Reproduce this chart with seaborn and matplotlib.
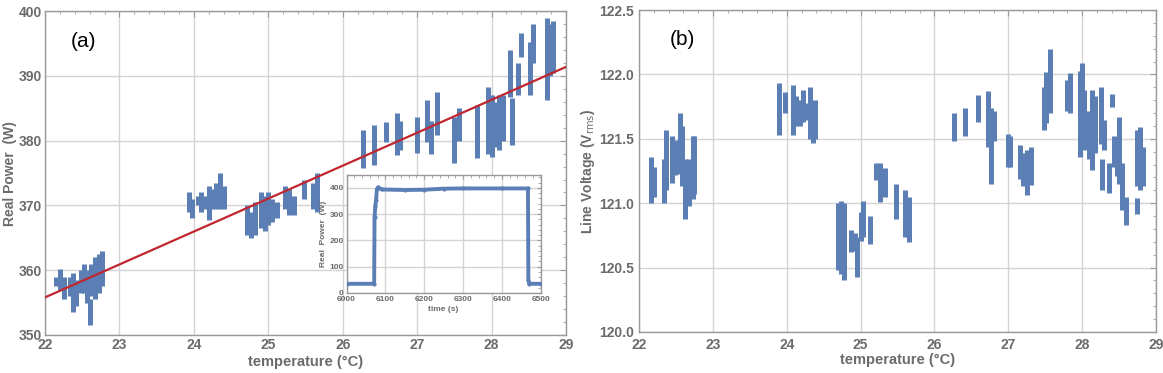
import matplotlib
matplotlib.use("Agg")
import matplotlib.pyplot as plt
from matplotlib.ticker import MultipleLocator, AutoMinorLocator, FormatStrFormatter
import seaborn as sns

# ---- panel (a): vertical streaks of real power vs temperature  (T, low, high)
power_T = [22.15, 22.20, 22.25, 22.33, 22.38, 22.42, 22.48, 22.52, 22.57, 22.60, 22.62, 22.67, 22.72, 22.76,
           23.93, 23.97, 24.05, 24.10, 24.15, 24.20, 24.25, 24.30, 24.35, 24.40,
           24.72, 24.77, 24.82, 24.90, 24.95, 25.00, 25.05, 25.12, 25.22, 25.28, 25.35, 25.48, 25.60, 25.65,
           26.27, 26.42, 26.58, 26.73, 26.77, 27.00, 27.13, 27.18, 27.27, 27.49, 27.56, 27.81,
           27.95, 28.00, 28.05, 28.10, 28.15, 28.25, 28.27, 28.35, 28.40, 28.52, 28.55, 28.74, 28.78, 28.82]
power_lo = [357.5, 357.0, 355.5, 356.0, 353.5, 354.5, 356.5, 356.5, 355.0, 351.5, 356.0, 355.5, 356.5, 357.5,
            369.0, 368.0, 370.0, 369.0, 369.5, 367.8, 369.5, 369.5, 369.5, 369.5,
            365.5, 365.0, 365.5, 366.5, 366.0, 367.0, 367.5, 368.0, 369.5, 368.5, 368.5, 371.0, 369.5, 369.0,
            375.8, 376.2, 379.8, 377.8, 378.5, 378.1, 379.8, 378.0, 380.9, 376.5, 380.0, 377.3,
            378.0, 377.5, 379.0, 378.5, 380.0, 386.8, 379.4, 387.0, 393.0, 387.0, 392.0, 386.3, 390.0, 390.5]
power_hi = [359.0, 360.2, 359.0, 359.0, 359.5, 358.5, 360.0, 361.0, 360.0, 355.5, 361.0, 362.0, 362.5, 363.0,
            372.0, 371.0, 371.5, 372.0, 371.5, 373.0, 372.5, 373.5, 375.0, 373.0,
            370.0, 369.0, 370.5, 372.0, 371.5, 372.0, 371.0, 370.5, 373.0, 372.5, 371.5, 374.0, 373.5, 375.0,
            381.6, 382.4, 382.9, 384.3, 383.0, 383.7, 386.3, 383.0, 387.5, 383.7, 385.0, 385.5,
            388.3, 387.0, 386.0, 387.0, 387.0, 394.0, 386.6, 392.0, 396.6, 395.3, 398.0, 399.0, 398.0, 398.5]

# linear fit line (end points)
fit_T = [22.0, 29.0]
fit_P = [355.8, 391.4]

# inset: real power vs time
inset_time = [6000, 6071, 6072, 6074, 6076, 6078, 6081, 6090, 6150, 6200, 6250, 6300, 6400, 6467, 6468, 6470, 6500]
inset_power = [35, 35, 290, 330, 355, 395, 402, 394, 392, 393, 397, 398, 398, 398, 50, 35, 35]

# ---- panel (b): line voltage streaks  (T, low, high)
volt_T = [22.16, 22.20, 22.34, 22.36, 22.45, 22.49, 22.55, 22.58, 22.62, 22.68, 22.73, 22.75,
          23.90, 23.97, 24.08, 24.12, 24.18, 24.22, 24.26, 24.31, 24.35, 24.38,
          24.69, 24.74, 24.78, 24.87, 24.92, 24.95, 25.00, 25.03, 25.13, 25.21, 25.26, 25.33, 25.48, 25.60, 25.65,
          26.27, 26.41, 26.59, 26.72, 26.77, 26.80, 26.99, 27.02, 27.16, 27.20, 27.25, 27.31,
          27.48, 27.51, 27.57, 27.80, 27.84, 27.97, 28.00, 28.03, 28.09, 28.13, 28.18, 28.25, 28.27,
          28.30, 28.36, 28.40, 28.43, 28.47, 28.50, 28.54, 28.59, 28.74, 28.74, 28.78, 28.82]
volt_lo = [121.00, 121.05, 121.00, 121.10, 121.16, 121.22, 121.23, 121.13, 120.88, 120.98, 121.03, 121.07,
           121.53, 121.70, 121.53, 121.60, 121.60, 121.63, 121.65, 121.50, 121.47, 121.50,
           120.48, 120.45, 120.40, 120.62, 120.63, 120.43, 120.71, 120.74, 120.68, 121.18, 121.01, 121.05, 120.88, 120.74, 120.70,
           121.48, 121.52, 121.63, 121.44, 121.15, 121.48, 121.28, 121.28, 121.19, 121.13, 121.06, 121.14,
           121.57, 121.62, 121.70, 121.72, 121.70, 121.36, 121.46, 121.41, 121.34, 121.26, 121.39, 121.46, 121.10,
           121.41, 121.08, 121.75, 121.28, 121.21, 121.15, 120.95, 120.83, 121.13, 120.92, 121.10, 121.13]
volt_hi = [121.36, 121.28, 121.34, 121.57, 121.52, 121.49, 121.70, 121.60, 121.34, 121.34, 121.52, 121.52,
           121.93, 121.86, 121.92, 121.83, 121.80, 121.88, 121.78, 121.90, 121.78, 121.80,
           121.00, 121.02, 121.00, 120.79, 120.77, 120.74, 120.93, 121.02, 120.90, 121.31, 121.31, 121.27, 121.15, 121.10, 121.05,
           121.70, 121.74, 121.84, 121.87, 121.74, 121.72, 121.54, 121.52, 121.45, 121.39, 121.41, 121.44,
           121.90, 122.02, 122.20, 121.96, 122.01, 122.03, 122.09, 121.88, 121.72, 121.88, 121.83, 121.90, 121.34,
           121.65, 121.31, 121.85, 121.52, 121.47, 121.67, 121.31, 121.05, 121.57, 121.04, 121.59, 121.44]

BLUE = "#5b7fb5"
RED = "#c0262d"
GRAY = "#6b6b6b"
FRAME = "#9a9a9a"

sns.set_theme(style="white")
plt.rcParams["font.family"] = ["Liberation Sans", "DejaVu Sans"]


def style_axes(ax, fs=10, minor_x=5, minor_y=5):
    ax.grid(True, which="major", color="#d4d4d4", linewidth=1.0)
    ax.xaxis.set_minor_locator(AutoMinorLocator(minor_x))
    ax.yaxis.set_minor_locator(AutoMinorLocator(minor_y))
    ax.tick_params(which="both", direction="in", top=True, right=True, colors=FRAME,
                   labelcolor=GRAY, labelsize=fs)
    ax.tick_params(which="major", length=4, width=0.8, pad=2.5)
    ax.tick_params(which="minor", length=2, width=0.6)
    for s in ax.spines.values():
        s.set_color(FRAME)
        s.set_linewidth(1.0)
    for lab in ax.get_xticklabels() + ax.get_yticklabels():
        lab.set_fontweight("bold")


fig = plt.figure(figsize=(11.63, 3.73), dpi=100)
ax1 = fig.add_axes([0.0387, 0.102, 0.448, 0.868])
ax2 = fig.add_axes([0.5495, 0.110, 0.4445, 0.863])

# panel (a)
ax1.vlines(power_T, power_lo, power_hi, color=BLUE, linewidth=3.6, zorder=3)
sns.lineplot(x=fit_T, y=fit_P, color=RED, linewidth=1.6, ax=ax1, zorder=4)
ax1.set_xlim(22, 29)
ax1.set_ylim(350, 400)
ax1.xaxis.set_major_locator(MultipleLocator(1))
ax1.yaxis.set_major_locator(MultipleLocator(10))
style_axes(ax1)
ax1.set_xlabel("temperature (°C)", color=GRAY, fontsize=10.5, fontweight="bold", labelpad=2)
ax1.set_ylabel("Real Power  (W)", color=GRAY, fontsize=10, fontweight="bold", labelpad=1)
ax1.text(0.05, 0.89, "(a)", transform=ax1.transAxes, fontsize=15, color="black")

# inset
axin = fig.add_axes([0.298, 0.2145, 0.167, 0.317])
axin.set_facecolor("white")
sns.lineplot(x=inset_time, y=inset_power, color=BLUE, linewidth=2.8, marker="o",
             markersize=3, markeredgewidth=0, ax=axin, zorder=3)
axin.set_xlim(6000, 6500)
axin.set_ylim(0, 450)
axin.xaxis.set_major_locator(MultipleLocator(100))
axin.yaxis.set_major_locator(MultipleLocator(100))
style_axes(axin, fs=6)
axin.set_xlabel("time (s)", color=GRAY, fontsize=6, fontweight="bold", labelpad=2)
axin.set_ylabel("Real  Power  (W)", color=GRAY, fontsize=6, fontweight="bold", labelpad=2)
axin.tick_params(which="major", pad=2, length=3)
axin.set_zorder(5)

# panel (b)
ax2.vlines(volt_T, volt_lo, volt_hi, color=BLUE, linewidth=3.6, zorder=3)
ax2.set_xlim(22, 29)
ax2.set_ylim(120.0, 122.5)
ax2.xaxis.set_major_locator(MultipleLocator(1))
ax2.yaxis.set_major_locator(MultipleLocator(0.5))
ax2.yaxis.set_major_formatter(FormatStrFormatter("%.1f"))
style_axes(ax2)
ax2.tick_params(axis="x", which="major", pad=4)
ax2.tick_params(axis="y", which="major", pad=3.5)
ax2.set_xlabel("temperature (°C)", color=GRAY, fontsize=10.5, fontweight="bold", labelpad=1)
ax2.set_ylabel("Line Voltage (V$_{\\mathrm{rms}}$)", color=GRAY, fontsize=10, fontweight="bold", labelpad=2)
ax2.text(0.06, 0.89, "(b)", transform=ax2.transAxes, fontsize=15, color="black")

fig.savefig("out.png", dpi=100)
